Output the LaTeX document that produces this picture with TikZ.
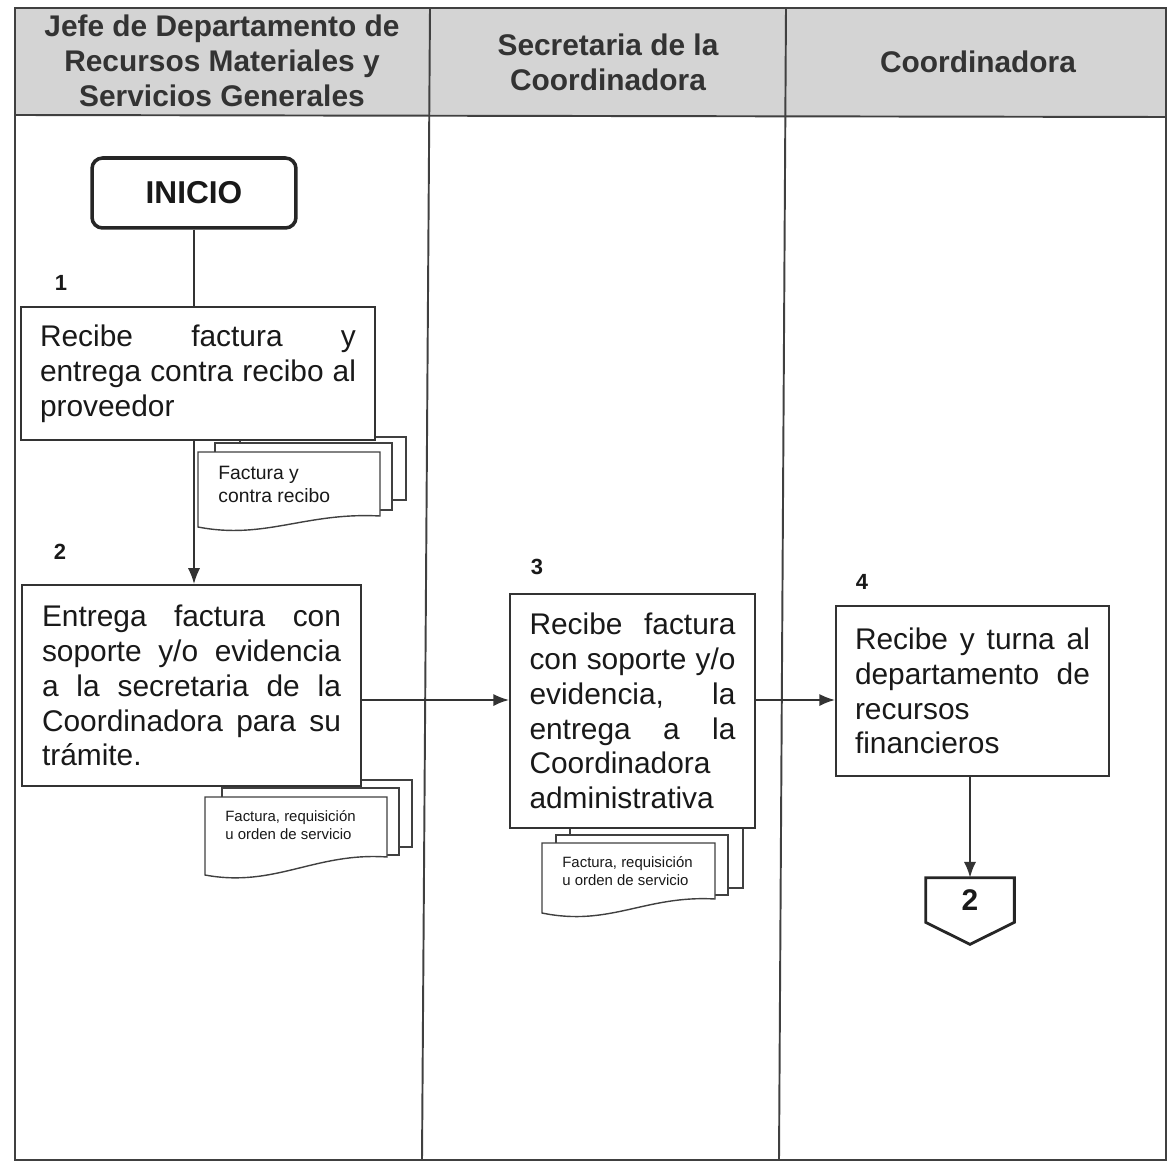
\documentclass[tikz,border=0pt]{standalone}
\usepackage{fontspec}
\setmainfont{Liberation Sans}
\usetikzlibrary{arrows.meta,calc}
% one line of a paragraph, spread to the full width of the node text
\newcommand{\jline}[1]{\leavevmode\hbox to \hsize{\spaceskip=0.28em plus 1fil\relax #1}}
\newcommand{\boxfont}{\fontsize{17}{19.84}\selectfont}

\begin{document}
\begin{tikzpicture}[x=0.02cm,y=-0.02cm,
  rule/.style={draw=black!75,line width=1.1pt},
  proc/.style={draw=black!80,line width=1.1pt,fill=white,rectangle,inner sep=0pt,
    align=left,font=\boxfont,text=black!90},
  start/.style={draw=black!85,line width=2pt,fill=white,rounded corners=6pt,
    font=\bfseries\fontsize{18}{20}\selectfont,text=black!90},
  num/.style={font=\bfseries\fontsize{12.5}{14}\selectfont,text=black!90,inner sep=0pt},
  head/.style={font=\bfseries\fontsize{17}{19.84}\selectfont,align=center,text=black!80,inner sep=0pt},
  page/.style={draw=black!75,line width=0.8pt,fill=white},
  bigdoc/.style={font=\fontsize{11}{13}\selectfont,align=left,inner sep=0pt,anchor=north west,text=black!90},
  smalldoc/.style={font=\fontsize{8.5}{10.2}\selectfont,align=left,inner sep=0pt,anchor=north west,text=black!90},
  flow/.style={draw=black!80,line width=1.1pt,-{Latex[length=9pt,width=7pt]}},
  link/.style={draw=black!80,line width=1.1pt}]

\useasboundingbox (0,0) rectangle (1170,1162);

% swimlane table
\fill[black!17] (15,8) -- (1166,8) -- (1166,117) -- (15,115) -- cycle;
\draw[rule] (15,8) rectangle (1166,1160);
\draw[rule] (15,115) -- (1166,117);
\draw[rule] (430,8) -- (422,1160);
\draw[rule] (786,8) -- (779,1160);

\node[head] (h1) at (222,61) {Jefe de Departamento de\\Recursos Materiales y\\Servicios Generales};
\node[head] (h2) at (608,62) {Secretaria de la\\Coordinadora};
\node[head] (h3) at (978,62) {Coordinadora};

% document stacks (drawn before the boxes that overlap them)
\draw[page] (240,437) rectangle (406,500);
\draw[page] (215,443) rectangle (392,510);
\draw[page] (198,452) -- (380,452) -- (380,516) .. controls (305,512) and (265,540) .. (198,527) -- cycle;
\node[bigdoc] (d1) at (218,466) {Factura y\\contra recibo};

\draw[page] (235,780) rectangle (412,847);
\draw[page] (222,788) rectangle (399,855);
\draw[page] (205,797) -- (387,797) -- (387,857) .. controls (315,852) and (275,888) .. (205,875) -- cycle;
\node[smalldoc] (d2) at (225,810) {Factura, requisición\\u orden de servicio};

\draw[page] (570,826) rectangle (743,888);
\draw[page] (556,835) rectangle (728,895);
\draw[page] (542,843) -- (715,843) -- (715,899) .. controls (645,895) and (610,927) .. (542,913) -- cycle;
\node[smalldoc] (d3) at (562,856) {Factura, requisición\\u orden de servicio};

% start
\node[start,minimum width=4.08cm,minimum height=1.4cm] (ini) at (194,193) {INICIO};

% activities
\node[num] (n1) at (61,283) {1};
\node[proc,minimum width=7.08cm,minimum height=2.66cm,text width=6.32cm] (b1) at (198,373.5)
  {\jline{Recibe factura y}\\\jline{entrega contra recibo al}\\proveedor};

\node[num] (n2) at (60,552) {2};
\node[proc,minimum width=6.78cm,minimum height=4.02cm,text width=5.98cm] (b2) at (191.5,685.5)
  {\jline{Entrega factura con}\\\jline{soporte y/o evidencia}\\\jline{a la secretaria de la}\\\jline{Coordinadora para su}\\trámite.};

\node[num] (n3) at (537,567) {3};
\node[proc,minimum width=4.9cm,minimum height=4.68cm,text width=4.12cm] (b3) at (632.5,711)
  {\jline{Recibe factura}\\\jline{con soporte y/o}\\\jline{evidencia, la}\\\jline{entrega a la}\\Coordinadora\\administrativa};

\node[num] (n4) at (862,582) {4};
\node[proc,minimum width=5.46cm,minimum height=3.4cm,text width=4.7cm] (b4) at (972.5,691)
  {\jline{Recibe y turna al}\\\jline{departamento de}\\recursos\\financieros};

% off-page connector
\node[minimum width=1.76cm,minimum height=0.88cm,inner sep=0pt,
  font=\bfseries\fontsize{17}{18}\selectfont,text=black!90] (off) at (970,900) {\raisebox{-5pt}{2}};
\draw[draw=black!85,line width=1.6pt] (off.north west) -- (off.north east) -- (off.south east)
  -- ($(off.south)+(0,22)$) -- (off.south west) -- cycle;

% connectors
\coordinate (row) at (0,700);
\draw[link] (ini.south) -- (ini.south |- b1.north);
\draw[flow] (ini.south |- b1.south) -- (ini.south |- b2.north);
\draw[flow] (b2.east |- row) -- (b3.west |- row);
\draw[flow] (b3.east |- row) -- (b4.west |- row);
\draw[flow] (off.north |- b4.south) -- (off.north);
\end{tikzpicture}
\end{document}
